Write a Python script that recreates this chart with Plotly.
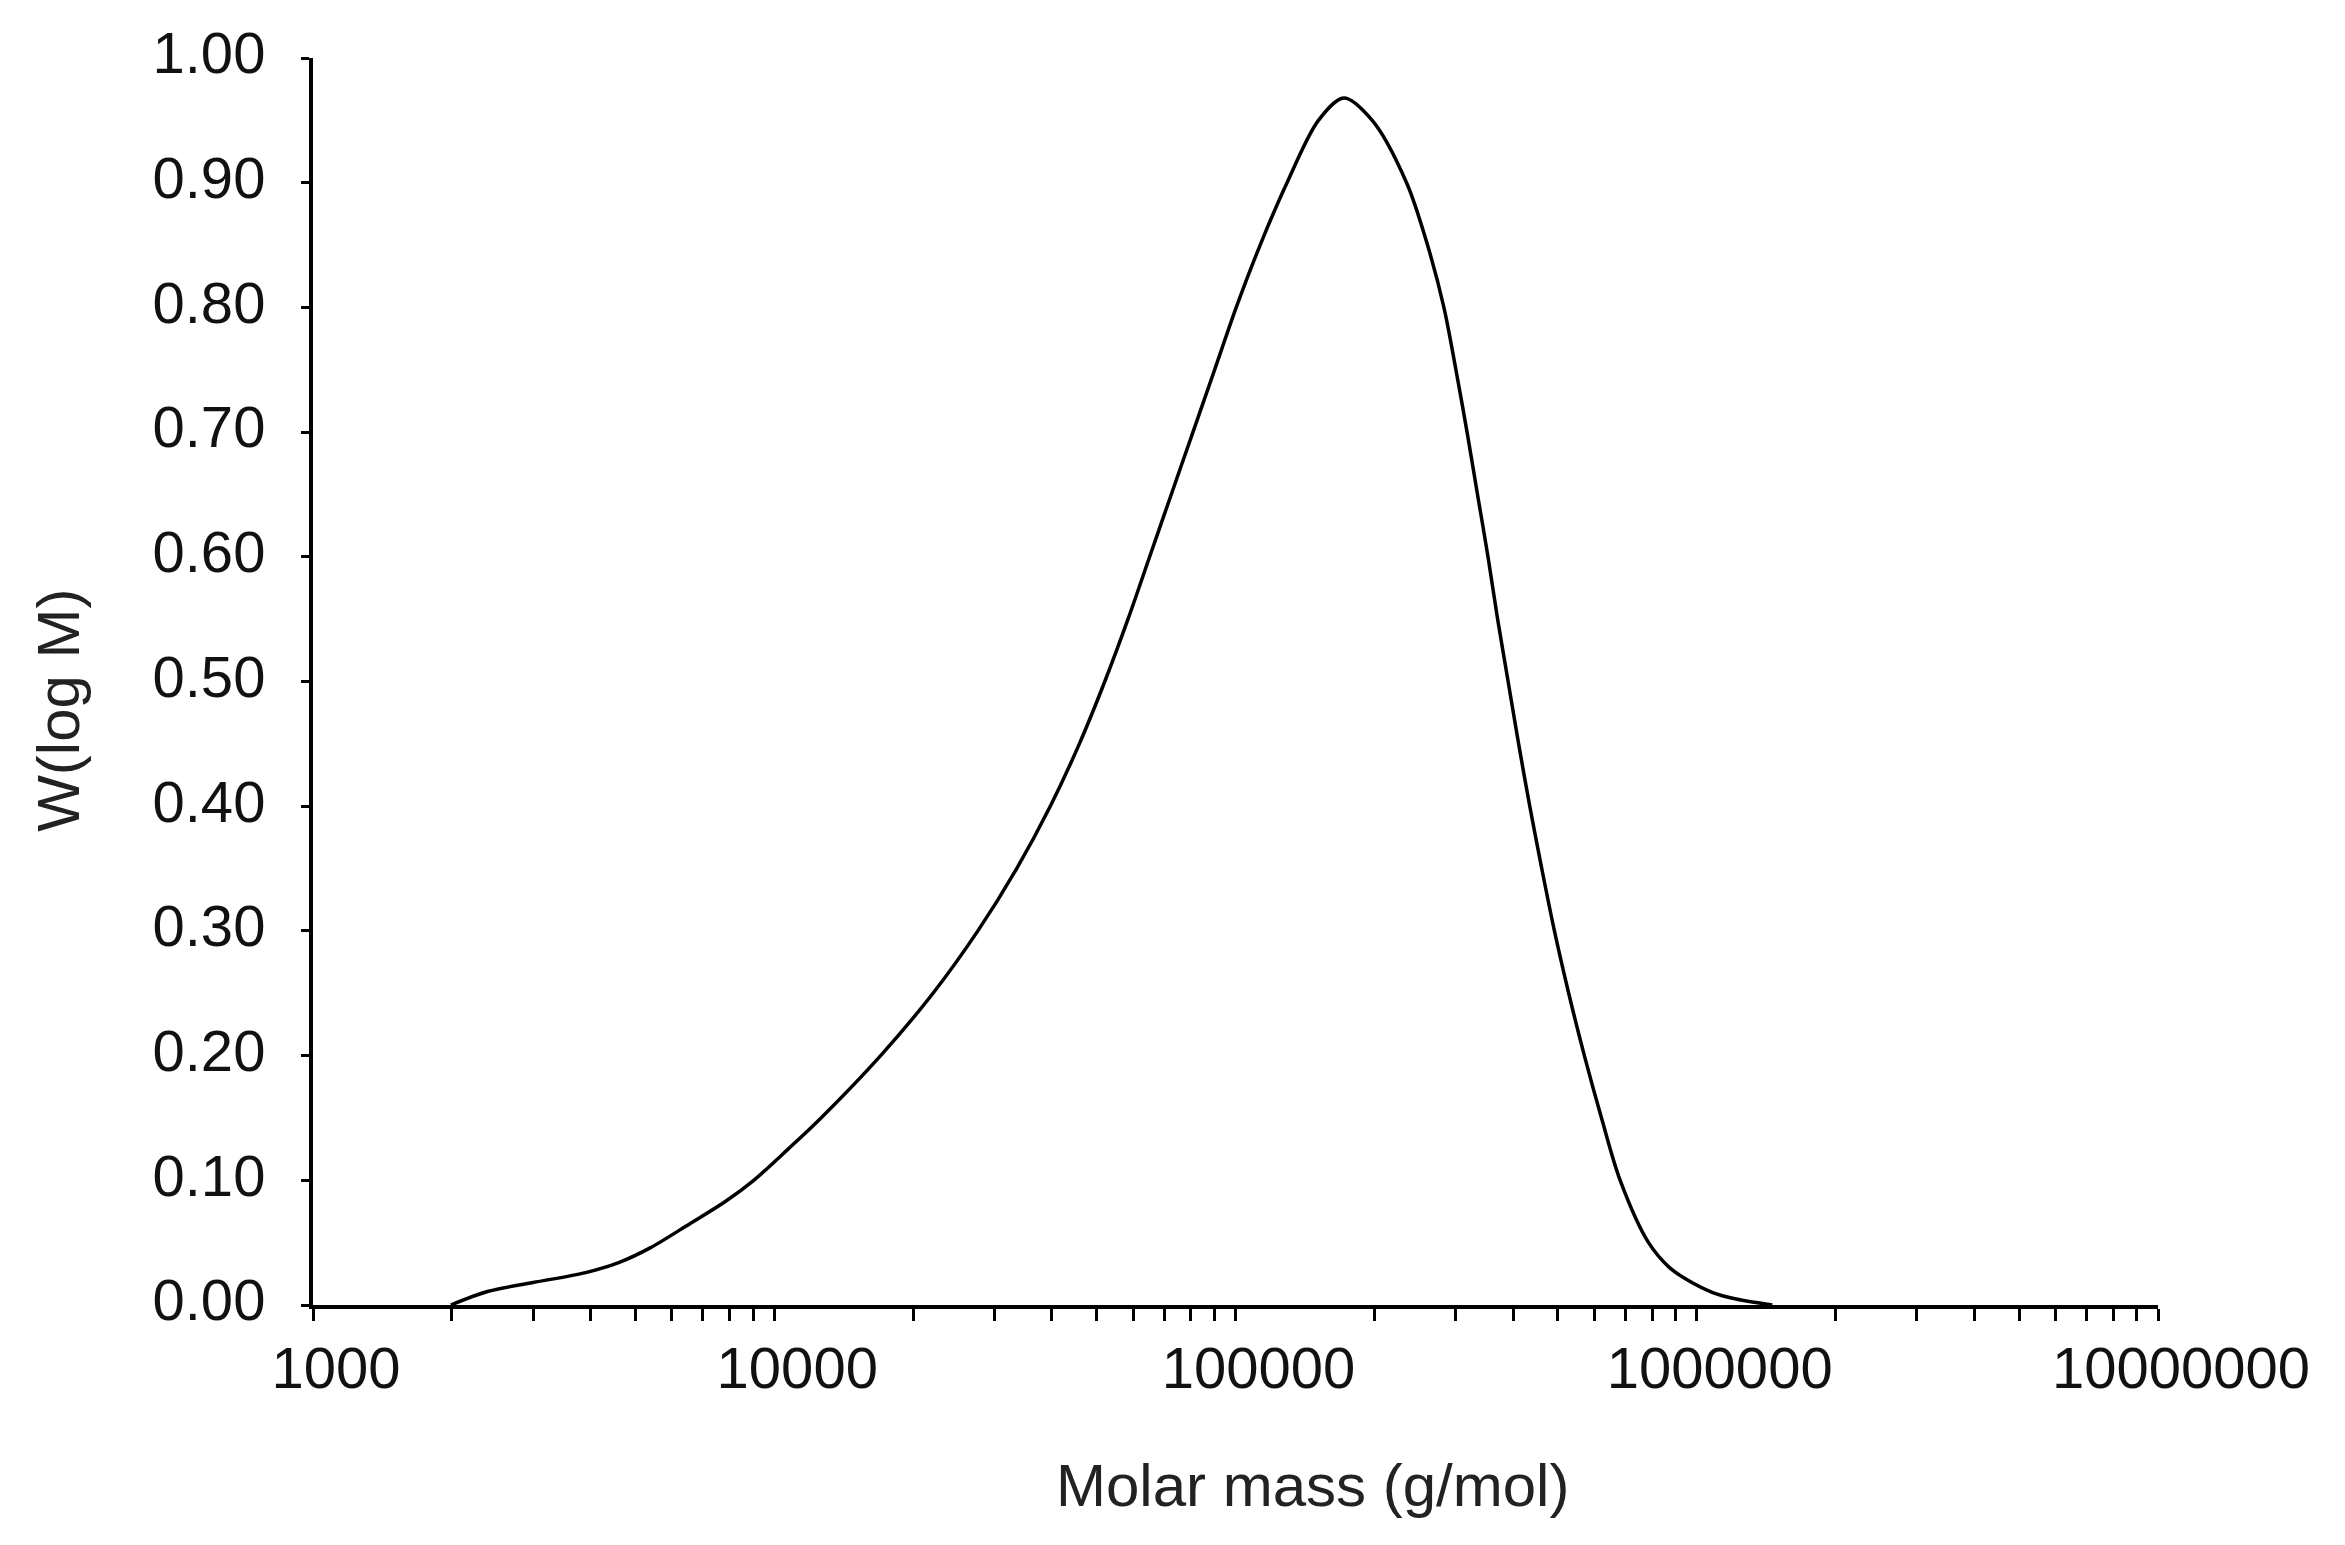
import plotly.graph_objects as go

# Molar mass (g/mol) and W(log M)
molar_mass = [1990, 2400, 3000, 3900, 4600, 5395, 6549, 7833, 9027, 10715, 12630,
              17010, 22090, 27630, 33540, 39670, 45860, 52070, 58470, 65140, 72560,
              80870, 90110, 100370, 113100, 129330, 151280, 171700, 197900, 234900,
              260800, 283000, 300500, 317700, 334700, 352700, 370100, 390000, 411000,
              434500, 461300, 491400, 527700, 570600, 621600, 682300,
              786300, 873000, 955000, 1083000, 1210000, 1458000]
w_log_m = [0.0, 0.011, 0.018, 0.026, 0.034, 0.046, 0.065, 0.083, 0.100, 0.125, 0.150,
           0.200, 0.250, 0.300, 0.350, 0.400, 0.450, 0.500, 0.550, 0.600, 0.650,
           0.700, 0.750, 0.800, 0.850, 0.900, 0.950, 0.968, 0.950, 0.900,
           0.850, 0.800, 0.750, 0.700, 0.650, 0.600, 0.550, 0.500, 0.450,
           0.400, 0.350, 0.300, 0.250, 0.200, 0.150, 0.100,
           0.050, 0.030, 0.020, 0.010, 0.005, 0.0]

x_tick_vals = [1000, 10000, 100000, 1000000, 10000000]
x_tick_text = ["1000", "10000", "100000", "1000000", "10000000"]
y_tick_vals = [0.0, 0.1, 0.2, 0.3, 0.4, 0.5, 0.6, 0.7, 0.8, 0.9, 1.0]
x_title = "Molar mass (g/mol)"
y_title = "W(log M)"

font_family = "Liberation Sans, Arial, sans-serif"
tick_font = dict(size=58, family=font_family, color="#111111")
title_font = dict(size=60, family=font_family, color="#222222")

fig = go.Figure()
fig.add_trace(go.Scatter(
    x=molar_mass, y=w_log_m, mode="lines",
    line=dict(color="black", width=3.5, shape="spline", smoothing=0.9),
    showlegend=False, hoverinfo="skip",
))

fig.update_layout(
    width=2337, height=1537,
    margin=dict(l=305, r=187, t=44, b=240),
    paper_bgcolor="white", plot_bgcolor="white",
    font=dict(family=font_family, size=58, color="#111111"),
    annotations=[
        dict(text=x_title, xref="paper", yref="paper", x=0.5415, y=0,
             xanchor="center", yanchor="middle", yshift=-180,
             showarrow=False, font=title_font),
        dict(text=y_title, xref="paper", yref="paper", x=0, y=0.4765,
             xanchor="center", yanchor="middle", xshift=-254, textangle=-90,
             showarrow=False, font=title_font),
    ],
)

fig.update_xaxes(
    type="log", range=[3, 7],
    tickvals=x_tick_vals, ticktext=x_tick_text,
    showgrid=False, zeroline=False,
    showline=True, linecolor="black", linewidth=4,
    ticks="outside", ticklen=12, tickwidth=3, tickcolor="black",
    minor=dict(dtick="D1", ticks="outside", ticklen=12, tickwidth=2.5,
               tickcolor="black", showgrid=False),
    tickfont=tick_font,
    ticklabelstandoff=-3,
    ticklabelshift=23,
)

fig.update_yaxes(
    range=[0, 1.0],
    tickvals=y_tick_vals, tickformat=".2f",
    showgrid=False, zeroline=False,
    showline=True, linecolor="black", linewidth=4,
    ticks="outside", ticklen=8, tickwidth=3, tickcolor="black",
    tickfont=tick_font,
    ticklabelstandoff=24,
    ticklabelshift=-5,
)

fig.write_html("out.html")
